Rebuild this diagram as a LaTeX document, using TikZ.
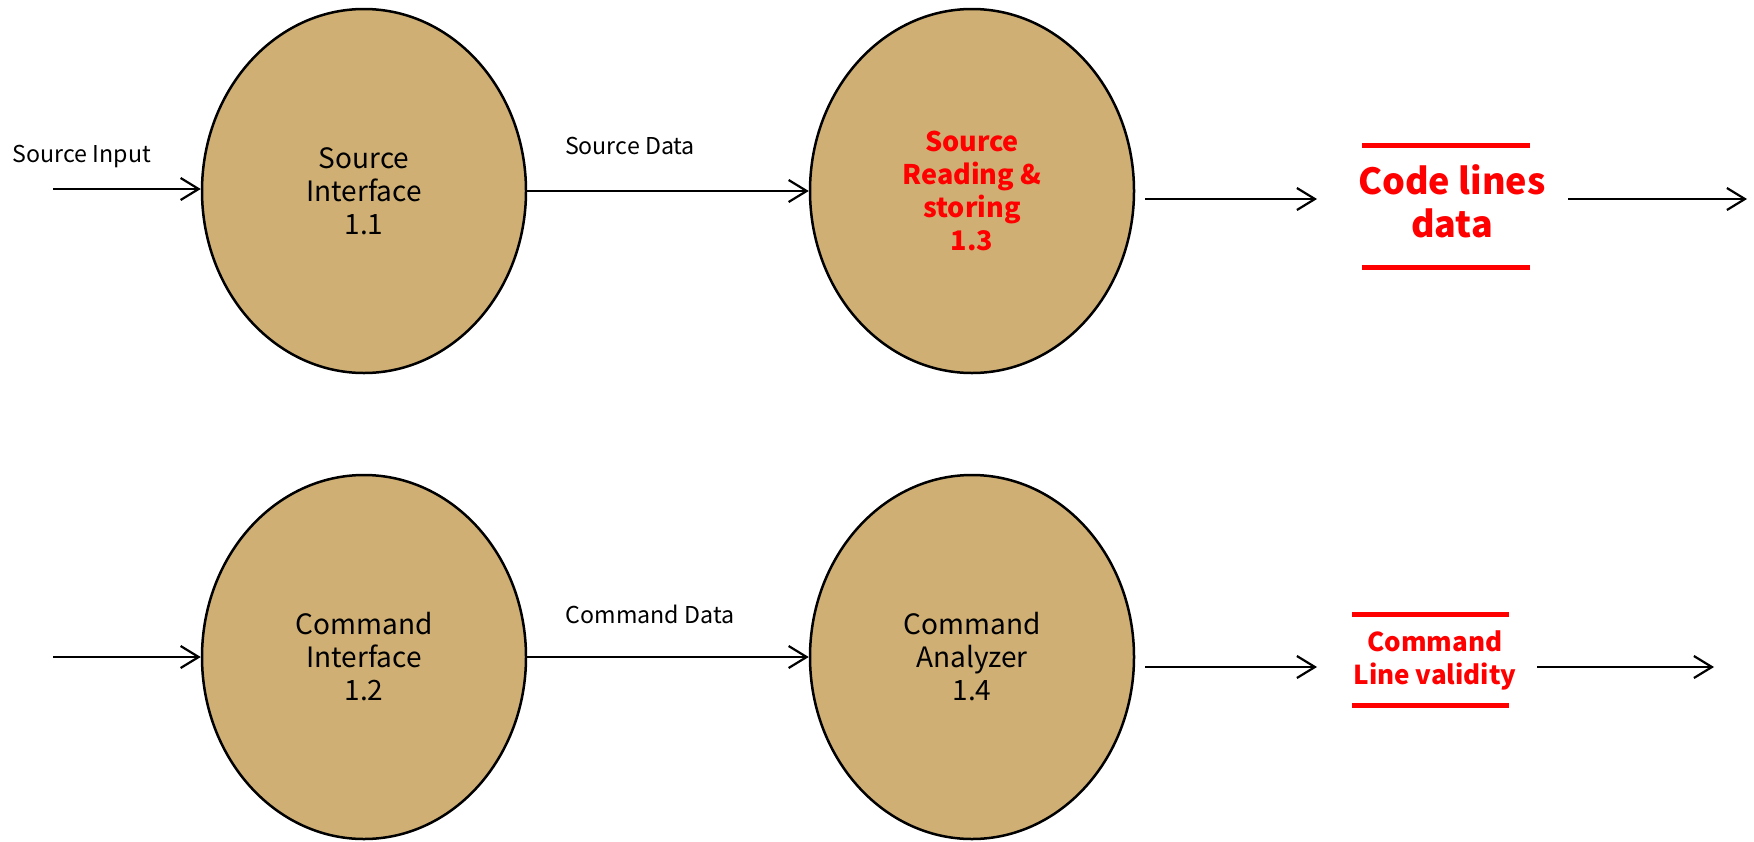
\documentclass[tikz,border=0pt]{standalone}
\usepackage{fontspec}
\setmainfont{Noto Sans CJK KR}
\usetikzlibrary{shapes.geometric, arrows.meta}
\definecolor{bubble}{RGB}{207,175,115}
\definecolor{hot}{RGB}{255,0,0}

\begin{document}
\begin{tikzpicture}[x=0.5pt, y=-0.5pt,
  process/.style={ellipse, draw=black, line width=1.25pt, fill=bubble,
    minimum width=162pt, minimum height=182pt, inner sep=0pt, align=center,
    font=\fontsize{14}{16.5}\selectfont},
  hotproc/.style={process, text=hot, font=\bfseries\fontsize{13.5}{16.5}\selectfont},
  flow/.style={line width=1.1pt, -{Straight Barb[length=9pt, width=11pt, line width=1.1pt]}},
  lbl/.style={font=\fontsize{11.6}{14}\selectfont, inner sep=0pt},
  store/.style={inner sep=0pt, outer sep=0pt, align=center, text=hot},
  storeline/.style={draw=hot, line width=2.5pt}
]
\useasboundingbox (0,0) rectangle (1754,841);

% processes
\node[process] (e11) at (364,191) {Source\\Interface\\1.1};
\node[hotproc] (e13) at (972,191) {Source\\Reading \&\\storing\\1.3};
\node[process] (e12) at (364,657) {Command\\Interface\\1.2};
\node[process] (e14) at (972,657) {Command\\Analyzer\\1.4};

% data stores: red text between two red bars
\node[store, font=\bfseries\fontsize{18}{21.5}\selectfont] (s1) at (1452,201) {Code lines\\data};
\draw[storeline] ([shift={(-90,-56)}]s1.center) -- ([shift={(78,-56)}]s1.center);
\draw[storeline] ([shift={(-90,66)}]s1.center) -- ([shift={(78,66)}]s1.center);

\node[store, font=\bfseries\fontsize{13}{16.5}\selectfont] (s2) at (1435,660) {Command\\Line validity};
\draw[storeline] ([shift={(-83,-46)}]s2.center) -- ([shift={(74,-46)}]s2.center);
\draw[storeline] ([shift={(-83,45)}]s2.center) -- ([shift={(74,45)}]s2.center);

% flow labels
\node[lbl] (lin) at (82,156) {Source Input};
\node[lbl] (lsd) at (630,146) {Source Data};
\node[lbl] (lcd) at (650,614) {Command Data};

% free ends
\coordinate (in1) at (53,189);
\coordinate (in2) at (53,657);
\coordinate (out1) at (1747,199);
\coordinate (out2) at (1714,667);

% flows
\draw[flow] (in1) -- (e11.west |- in1);
\draw[flow] (in2) -- (e12.west |- in2);
\draw[flow] (e11.east) -- (e13.west);
\draw[flow] (e12.east) -- (e14.west);
\draw[flow] ([xshift=5pt]e13.east |- out1) -- ([shift={(-135,-2)}]s1.center);
\draw[flow] ([shift={(116,-2)}]s1.center) -- (out1);
\draw[flow] ([xshift=5pt]e14.east |- out2) -- ([shift={(-118,7)}]s2.center);
\draw[flow] ([shift={(102,7)}]s2.center) -- (out2);
\end{tikzpicture}
\end{document}
